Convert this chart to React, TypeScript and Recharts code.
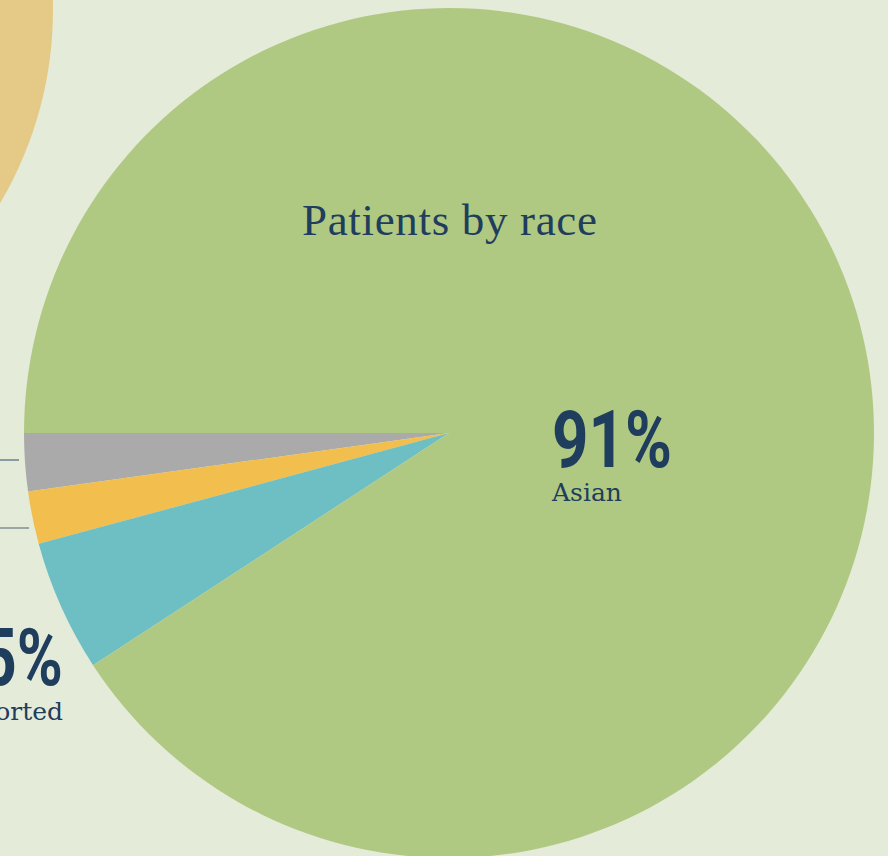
import React from 'react';
import { PieChart, Pie, Cell } from 'recharts';

// main chart: patients by race (slices go counterclockwise from 9 o'clock)
const raceNames = ['Other', 'Multiracial', 'Not reported', 'Asian'];
const raceShares = [2.2, 2.0, 5.0, 90.8];
const raceColors = ['#aaaaaa', '#f2bf4e', '#6ebfc4', '#b0c982'];

// neighbouring chart, only a sliver of it shows in the top-left corner
const neighbourShares = [100];

const raceData = raceNames.map((name, i) => ({ name, value: raceShares[i] }));
const neighbourData = neighbourShares.map((value, i) => ({ name: `n${i}`, value }));

const NAVY = '#1f3d5c';
const BG = '#e4ebd9';
const TITLE = 'Patients by race';

// where each slice's label sits; the first two labels are off the left edge,
// only their leader lines reach into the picture
const labelSpots = [
  { x: 0, anchor: 'end', numY: 0, nameY: 0, line: { y: 460, x2: 19 }, visible: false },
  { x: 0, anchor: 'end', numY: 0, nameY: 0, line: { y: 528, x2: 29 }, visible: false },
  { x: 63, anchor: 'end', numY: 685, nameY: 720, line: null, visible: true },
  { x: 552, anchor: 'start', numY: 467, nameY: 501, line: null, visible: true },
];

const renderLabel = (props: any) => {
  const { index, percent, name } = props;
  const spot = labelSpots[index];
  const pct = `${Math.round(percent * 100)}%`;
  // the digits are a condensed face; squeeze Roboto to match
  const numWidth = pct.length === 3 ? 120 : 82;
  const numX = spot.anchor === 'end' ? spot.x - numWidth : spot.x;
  return (
    <g key={`lbl-${index}`}>
      {spot.line && (
        <line x1={-10} y1={spot.line.y} x2={spot.line.x2} y2={spot.line.y} stroke="#4f6677" strokeWidth={1.2} />
      )}
      {spot.visible && (
        <text
          x={numX}
          y={spot.numY}
          fill={NAVY}
          fontFamily="Roboto, sans-serif"
          fontWeight={700}
          fontSize={80}
          textLength={numWidth}
          lengthAdjust="spacingAndGlyphs"
        >
          {pct}
        </text>
      )}
      {spot.visible && (
        <text
          x={spot.x}
          y={spot.nameY}
          textAnchor={spot.anchor}
          fill={NAVY}
          fontFamily="'DejaVu Serif', serif"
          fontSize={25}
        >
          {name}
        </text>
      )}
      {index === raceNames.length - 1 && (
        <text
          x={449.5}
          y={235}
          textAnchor="middle"
          fill={NAVY}
          fontFamily="'Liberation Serif', serif"
          fontSize={45}
          textLength={295}
        >
          {TITLE}
        </text>
      )}
    </g>
  );
};

const App = () => {
  return (
    <div style={{ position: 'absolute', left: 0, top: 0, width: 888, height: 856, overflow: 'hidden', background: BG }}>
      <PieChart width={888} height={856} margin={{ top: 0, right: 0, bottom: 0, left: 0 }}>
        <Pie
          data={neighbourData}
          dataKey="value"
          cx={-326}
          cy={10}
          outerRadius={379}
          stroke="none"
          isAnimationActive={false}
        >
          {neighbourData.map((d) => (
            <Cell key={d.name} fill="#e5ca87" />
          ))}
        </Pie>
        <Pie
          data={raceData}
          dataKey="value"
          nameKey="name"
          cx={449}
          cy={433}
          outerRadius={425}
          startAngle={180}
          endAngle={540}
          stroke="none"
          label={renderLabel}
          labelLine={false}
          isAnimationActive={false}
        >
          {raceData.map((d, i) => (
            <Cell key={d.name} fill={raceColors[i]} />
          ))}
        </Pie>
      </PieChart>
    </div>
  );
};

export default App;
